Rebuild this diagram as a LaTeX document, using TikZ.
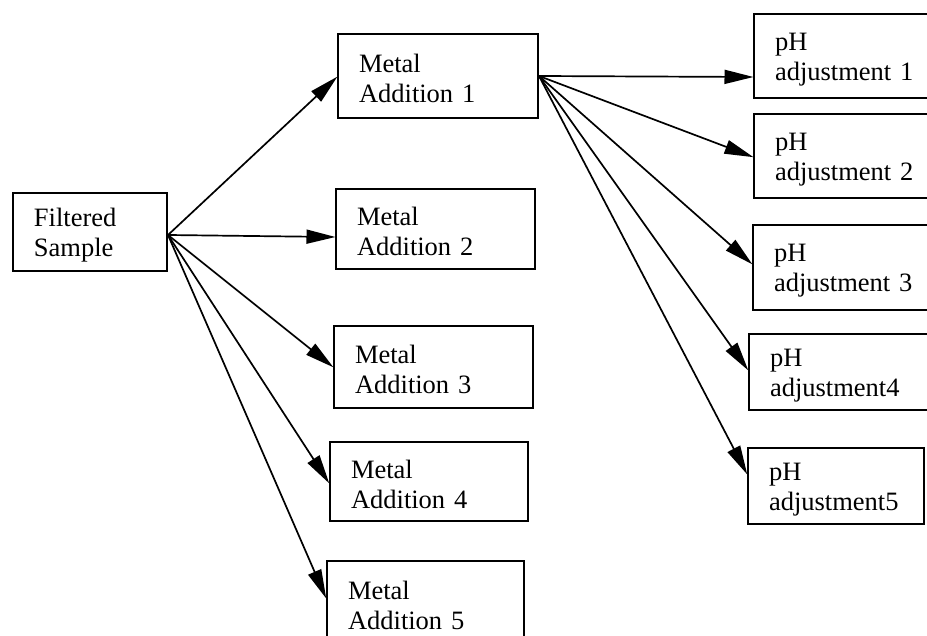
\documentclass[tikz,border=0pt]{standalone}
\usepackage{fontspec}
\setmainfont{Liberation Serif}
\usetikzlibrary{arrows.meta}
\begin{document}
\begin{tikzpicture}[x=1pt,y=-1pt,
  box/.style={draw, line width=2pt, rectangle, anchor=north west, align=left,
    inner xsep=20pt, inner ysep=0pt,
    font=\fontsize{26.5}{30}\selectfont},
  conn/.style={line width=1.7pt, -{Triangle[length=29pt,width=14pt]}, shorten >=-0.5pt}]
\useasboundingbox (0,0) rectangle (927,636);
% boxes: (x1,y1) with width/height
\newcommand{\mybox}[6]{%
  \node[box, minimum width=#4pt, minimum height=#5pt, text width=#4pt-42pt] (#1) at (#2,#3) {\rule{0pt}{24pt}#6};}
\mybox{f}{12}{192}{154}{78}{Filtered\\Sample}
\mybox{m1}{337}{33}{200}{84}{Metal\\Addition 1}
\mybox{m2}{335}{188}{199}{80}{Metal\\Addition 2}
\mybox{m3}{333}{325}{199}{82}{Metal\\Addition 3}
\mybox{m4}{329}{441}{198}{79}{Metal\\Addition 4}
\mybox{m5}{326}{560}{197}{84}{Metal\\Addition 5}
\mybox{p1}{753}{13}{190}{84}{pH\\adjustment 1}
\mybox{p2}{753}{113}{190}{84}{pH\\adjustment 2}
\mybox{p3}{752}{224}{190}{85}{pH\\adjustment 3}
\mybox{p4}{748}{333}{190}{76}{pH\\adjustment4}
\mybox{p5}{747}{447}{176}{76}{pH\\adjustment5}
% connection points
\coordinate (fo) at (f.east |- 0,235);
\coordinate (mo) at (m1.east |- 0,76);
\coordinate (i1) at (m1.west |- 0,77);
\coordinate (i2) at (m2.west |- 0,237);
\coordinate (i3) at (m3.west |- 0,367);
\coordinate (i4) at (m4.west |- 0,483);
\coordinate (i5) at (m5.west |- 0,598);
\coordinate (j1) at (p1.west |- 0,77);
\coordinate (j2) at (p2.west |- 0,157);
\coordinate (j3) at (p3.west |- 0,264);
\coordinate (j4) at (p4.west |- 0,370);
\coordinate (j5) at (p5.west |- 0,474);
\foreach \t in {i1,i2,i3,i4,i5} \draw[conn] (fo) -- (\t);
\foreach \t in {j1,j2,j3,j4,j5} \draw[conn] (mo) -- (\t);
\end{tikzpicture}
\end{document}
